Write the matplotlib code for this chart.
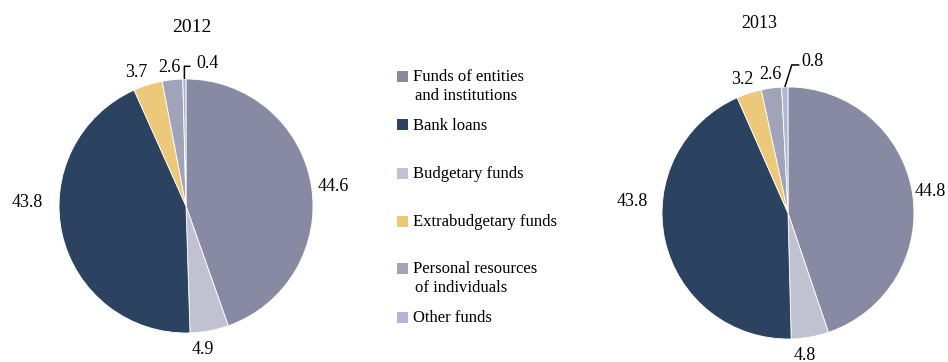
import matplotlib.pyplot as plt
import numpy as np
from matplotlib.patches import Rectangle

# Sources of investment financing, % of total
categories = ["Funds of entities\nand institutions", "Bank loans", "Budgetary funds",
              "Extrabudgetary funds", "Personal resources\nof individuals", "Other funds"]
colors = ["#878aa2", "#2b4261", "#c1c2d1", "#ecc97a", "#a1a3b8", "#b2b6d2"]
shares_2012 = [44.6, 43.8, 4.9, 3.7, 2.6, 0.4]
shares_2013 = [44.8, 43.8, 4.8, 3.2, 2.6, 0.8]
years = ["2012", "2013"]

# slices go clockwise from 12 o'clock in this order
pie_order = [0, 2, 1, 3, 4, 5]

# label positions (unit circle coords), in category order
label_pos_2012 = [(1.16, 0.15), (-1.25, 0.03), (0.13, -1.13), (-0.39, 1.05), (-0.13, 1.09), (0.17, 1.12)]
label_pos_2013 = [(1.13, 0.17), (-1.24, 0.09), (0.13, -1.13), (-0.36, 1.06), (-0.14, 1.10), (0.19, 1.20)]
# elbow of the leader line to the smallest slice
leader_2012 = [(-0.013, 1.10), (0.035, 1.10)]
leader_2013 = [(0.03, 1.175), (0.09, 1.175)]

plt.rcParams['font.family'] = ['Liberation Serif', 'DejaVu Serif']

fig = plt.figure(figsize=(9.48, 3.62), dpi=100)
W, H = 948, 362


def draw_pie(rect, shares, label_pos, leader):
    ax = fig.add_axes(rect)
    vals = [shares[i] for i in pie_order]
    cols = [colors[i] for i in pie_order]
    wedges, _ = ax.pie(vals, colors=cols, startangle=90, counterclock=False,
                       wedgeprops=dict(edgecolor="white", linewidth=0.6))
    ax.set_xlim(-1, 1)
    ax.set_ylim(-1, 1)
    ax.set_aspect("equal")
    ax.axis("off")
    for i, v in enumerate(shares):
        x, y = label_pos[i]
        ax.text(x, y, f"{v:.1f}", ha="center", va="center", fontsize=13, clip_on=False)
    # leader line for the thin last slice
    w = wedges[-1]
    mid = np.deg2rad((w.theta1 + w.theta2) / 2)
    xs = [np.cos(mid)] + [p[0] for p in leader]
    ys = [np.sin(mid)] + [p[1] for p in leader]
    ax.plot(xs, ys, color="black", lw=1.1, clip_on=False, solid_capstyle="butt")
    return ax


draw_pie([59 / W, 29 / H, 254 / W, 254 / H], shares_2012, label_pos_2012, leader_2012)
draw_pie([662 / W, 23 / H, 252 / W, 252 / H], shares_2013, label_pos_2013, leader_2013)

fig.text(192 / W, 1 - 27 / H, years[0], ha="center", va="center", fontsize=14)
fig.text(759 / W, 1 - 23 / H, years[1], ha="center", va="center", fontsize=13)

# legend drawn by hand, entries are unevenly spaced
legend_y = [76, 125, 173, 221, 268, 317]
for cat, col, y in zip(categories, colors, legend_y):
    fig.patches.append(Rectangle((397 / W, 1 - (y + 5.5) / H), 11 / W, 11 / H,
                                 transform=fig.transFigure, facecolor=col, edgecolor="none"))
    for k, line in enumerate(cat.split("\n")):
        x = 413 if k == 0 else 415
        fig.text(x / W, 1 - (y + 1 + 19.5 * k) / H, line, ha="left", va="center", fontsize=12)

fig.savefig("out.png", dpi=100)
